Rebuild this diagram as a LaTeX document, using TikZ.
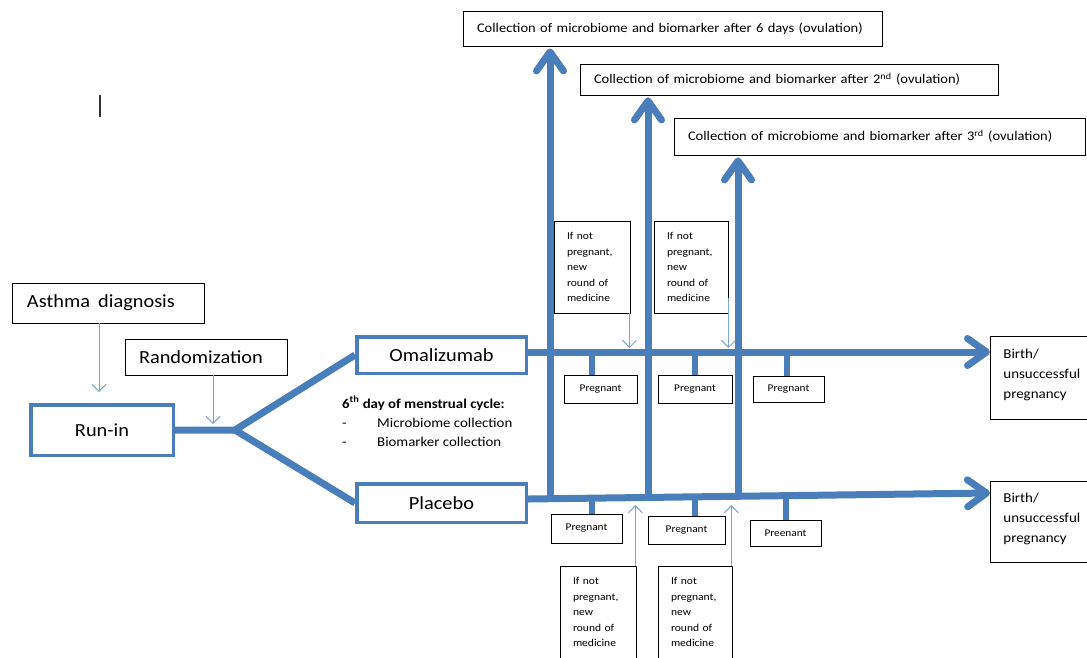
\documentclass[tikz,border=0pt]{standalone}
\usepackage{fontspec}
\setmainfont{Carlito}[FakeStretch=1.1]
\usepackage{tikz}
\usetikzlibrary{arrows.meta,backgrounds}
\definecolor{flowblue}{RGB}{74,126,187}
\definecolor{hintblue}{RGB}{125,165,212}
\tikzset{every picture/.append style={x=1pt,y=-1pt}}
\tikzset{textbox/.style={draw=black, line width=0.8pt, fill=white, inner sep=0pt}}
\tikzset{bigbox/.style={textbox, inner xsep=15pt, align=left, font=\fontsize{18.5}{22}\selectfont}}
\tikzset{armbox/.style={draw=flowblue, line width=3.5pt, fill=white, inner sep=0pt, font=\fontsize{18.5}{22}\selectfont}}
\tikzset{flow/.style={line width=7pt, flowblue, line join=round}}
\tikzset{flowarrow/.style={flow, -{Straight Barb[length=19pt,width=27pt,round]}}}
\tikzset{hint/.style={hintblue, line width=1pt, -{Straight Barb[length=7pt,width=14pt]}}}
\tikzset{preg/.style={textbox, minimum width=#1, minimum height=28pt, font=\fontsize{10.3}{12}\selectfont}}
\tikzset{ifnot/.style={textbox, text width=50pt, inner xsep=13pt, minimum height=92pt, align=left, font=\fontsize{10.5}{15.5}\selectfont}}
\tikzset{collect/.style={textbox, text width=#1, inner xsep=14pt, align=left, font=\fontsize{13.2}{15}\selectfont}}
\tikzset{outcome/.style={textbox, anchor=west, text width=90pt, inner xsep=13pt, align=left, font=\fontsize{13.6}{20}\selectfont}}

\begin{document}
\begin{tikzpicture}
\useasboundingbox (0,0) rectangle (1087,657);

\node (asthma) at (108,303)[bigbox, text width=162pt, minimum height=40pt]{Asthma\kern2pt\ diagnosis};
\node (random) at (206,357)[bigbox, text width=134pt, inner xsep=14pt, minimum height=36pt]{Randomization};
\node (runin) at (102,430)[armbox, minimum width=142.5pt, minimum height=50.5pt]{Run-in};
\coordinate (split) at (235,430);
\node (omal) at (441.5,355)[armbox, minimum width=169.5pt, minimum height=36.5pt]{Omalizumab};
\node (plac) at (441.5,503)[armbox, minimum width=169.5pt, minimum height=38.5pt]{Placebo};

\node (cycle) at (342,396)[anchor=north west, inner sep=0pt, align=left, font=\fontsize{13.5}{19}\selectfont]
  {\textbf{6\textsuperscript{th} day of menstrual cycle:}\\
   \makebox[35pt][l]{-}Microbiome collection\\
   \makebox[35pt][l]{-}Biomarker collection};

% collection boxes on top
\node (top1) at (672.5,28.5)[collect=391pt, minimum height=35pt]{Collection of microbiome and biomarker after 6 days (ovulation)};
\node (top2) at (789,79.5)[collect=390pt, minimum height=31pt]{Collection of microbiome and biomarker after 2\textsuperscript{nd} (ovulation)};
\node (top3) at (879.5,136.5)[collect=383pt, minimum height=37pt]{Collection of microbiome and biomarker after 3\textsuperscript{rd} (ovulation)};

% new round of medicine
\node (nb1) at (592,267)[ifnot]{If not\\pregnant,\\new\\round of\\medicine};
\node (nb2) at (691,267)[ifnot, text width=48pt]{If not\\pregnant,\\new\\round of\\medicine};
\node (nc1) at (598,612)[ifnot]{If not\\pregnant,\\new\\round of\\medicine};
\node (nc2) at (695,612)[ifnot, text width=48pt]{If not\\pregnant,\\new\\round of\\medicine};

% pregnant boxes
\node (pa) at (600.5,389)[preg=73pt]{Pregnant};
\node (pb) at (695,389)[preg=74pt]{Pregnant};
\node (pc) at (788.5,389)[preg=71pt, minimum height=26pt]{Pregnant};
\node (qa) at (586.5,528.5)[preg=71pt, minimum height=29pt]{Pregnant};
\node (qb) at (686.5,530)[preg=77pt]{Pregnant};
\node (qc) at (785.5,533)[preg=71pt, minimum height=26pt]{Preenant};

\node (birth1) at (990,377.5)[outcome, minimum height=83pt]{Birth/\\unsuccessful\\pregnancy\vspace{5pt}};
\node (birth2) at (990,521.5)[outcome, minimum height=81pt]{Birth/\\unsuccessful\\pregnancy\vspace{5pt}};

\coordinate (oline) at (0,352);
\coordinate (pline) at (0,499);
\coordinate (pline2) at (0,493);
\coordinate (v1) at (550,499);
\coordinate (v2) at (648,498);
\coordinate (v3) at (738,497);

\begin{scope}[on background layer]
\draw[flow] (runin.east) -- (split) -- (omal.west);
\draw[flow] (split) -- (plac.west);
\draw[flowarrow] (omal.east |- oline) -- (birth1.west |- oline);
\draw[flowarrow] (plac.east |- pline) -- (birth2.west |- pline2);
\draw[flowarrow, shorten >=2pt] (v1) -- (v1 |- top1.south);
\draw[flowarrow, shorten >=2pt] (v2) -- (v2 |- top2.south);
\draw[flowarrow, shorten >=2pt] (v3) -- (v3 |- top3.south);
\draw[flow, line width=6pt] ([xshift=-8.5pt]pa.north) -- ([xshift=-8.5pt]pa.north |- oline);
\draw[flow, line width=6pt] (pb.north) -- (pb.north |- oline);
\draw[flow, line width=6pt] ([xshift=-1.5pt]pc.north) -- ([xshift=-1.5pt]pc.north |- oline);
\draw[flow, line width=6pt] ([xshift=5.5pt]qa.north) -- ([xshift=5.5pt]qa.north |- pline);
\draw[flow, line width=6pt] ([xshift=8.5pt]qb.north) -- ([xshift=8.5pt]qb.north |- pline);
\draw[flow, line width=6pt] (qc.north) -- (qc.north |- pline);
\end{scope}

\draw[hint, shorten >=11pt] ([xshift=-9pt]asthma.south) -- ([xshift=-3pt]runin.north);
\draw[hint, shorten >=6pt] ([xshift=7pt]random.south) -- ([xshift=7pt]random.south |- split);
\draw[hint, shorten >=4pt] ([xshift=-1pt]nb1.south east) -- ([xshift=-1pt]nb1.south east |- oline);
\draw[hint, shorten >=4pt] ([yshift=15pt]nb2.south east) -- (nb2.south east |- oline);
\draw[hint, shorten >=6pt] ([xshift=-1pt]nc1.north east) -- ([xshift=-1pt]nc1.north east |- pline);
\draw[hint, shorten >=6pt] ([xshift=-1pt]nc2.north east) -- ([xshift=-1pt]nc2.north east |- pline);

% cursor mark
\draw[line width=1.2pt, black!80] (100,95) -- (100,117);
\end{tikzpicture}
\end{document}
